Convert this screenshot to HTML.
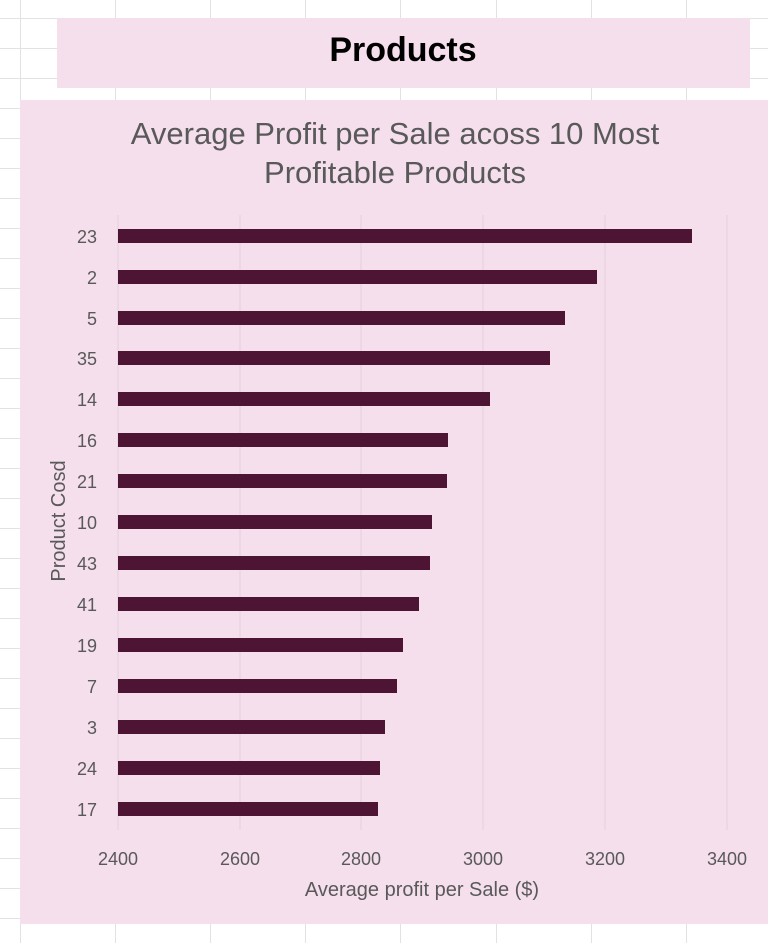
<!DOCTYPE html>
<html><head><meta charset="utf-8"><style>
body{margin:0;width:768px;height:943px;overflow:hidden;background:#fff;font-family:"Liberation Sans",sans-serif}
</style></head><body>
<svg width="768" height="943" xmlns="http://www.w3.org/2000/svg" font-family="Liberation Sans, sans-serif">
<g stroke="#e2e2e2" stroke-width="1">
<line x1="20.5" y1="0" x2="20.5" y2="943"/><line x1="115.5" y1="0" x2="115.5" y2="943"/><line x1="210.5" y1="0" x2="210.5" y2="943"/><line x1="305.5" y1="0" x2="305.5" y2="943"/><line x1="400.5" y1="0" x2="400.5" y2="943"/><line x1="496.5" y1="0" x2="496.5" y2="943"/><line x1="591.5" y1="0" x2="591.5" y2="943"/><line x1="686.5" y1="0" x2="686.5" y2="943"/>
<line x1="0" y1="18.5" x2="768" y2="18.5"/><line x1="0" y1="48.5" x2="768" y2="48.5"/><line x1="0" y1="78.5" x2="768" y2="78.5"/><line x1="0" y1="108.5" x2="768" y2="108.5"/><line x1="0" y1="138.5" x2="768" y2="138.5"/><line x1="0" y1="168.5" x2="768" y2="168.5"/><line x1="0" y1="198.5" x2="768" y2="198.5"/><line x1="0" y1="228.5" x2="768" y2="228.5"/><line x1="0" y1="258.5" x2="768" y2="258.5"/><line x1="0" y1="288.5" x2="768" y2="288.5"/><line x1="0" y1="318.5" x2="768" y2="318.5"/><line x1="0" y1="348.5" x2="768" y2="348.5"/><line x1="0" y1="378.5" x2="768" y2="378.5"/><line x1="0" y1="408.5" x2="768" y2="408.5"/><line x1="0" y1="438.5" x2="768" y2="438.5"/><line x1="0" y1="468.5" x2="768" y2="468.5"/><line x1="0" y1="498.5" x2="768" y2="498.5"/><line x1="0" y1="528.5" x2="768" y2="528.5"/><line x1="0" y1="558.5" x2="768" y2="558.5"/><line x1="0" y1="588.5" x2="768" y2="588.5"/><line x1="0" y1="618.5" x2="768" y2="618.5"/><line x1="0" y1="648.5" x2="768" y2="648.5"/><line x1="0" y1="678.5" x2="768" y2="678.5"/><line x1="0" y1="708.5" x2="768" y2="708.5"/><line x1="0" y1="738.5" x2="768" y2="738.5"/><line x1="0" y1="768.5" x2="768" y2="768.5"/><line x1="0" y1="798.5" x2="768" y2="798.5"/><line x1="0" y1="828.5" x2="768" y2="828.5"/><line x1="0" y1="858.5" x2="768" y2="858.5"/><line x1="0" y1="888.5" x2="768" y2="888.5"/><line x1="0" y1="918.5" x2="768" y2="918.5"/>
</g>
<rect x="57" y="18" width="693" height="70" fill="#f5dfec"/>
<text x="403" y="61" text-anchor="middle" font-size="34" font-weight="bold" fill="#000">Products</text>
<rect x="20" y="100" width="748" height="824" fill="#f5dfec"/>
<text x="395" y="144" text-anchor="middle" font-size="31" fill="#595959">Average Profit per Sale acoss 10 Most</text>
<text x="395" y="183" text-anchor="middle" font-size="31" fill="#595959">Profitable Products</text>
<g stroke="#e3d2dc" stroke-width="1">
<line x1="118" y1="215" x2="118" y2="830"/><line x1="240" y1="215" x2="240" y2="830"/><line x1="361" y1="215" x2="361" y2="830"/><line x1="483" y1="215" x2="483" y2="830"/><line x1="605" y1="215" x2="605" y2="830"/><line x1="727" y1="215" x2="727" y2="830"/>
</g>
<g fill="#4e1433">
<rect x="118" y="229" width="574" height="14"/>
<rect x="118" y="270" width="479" height="14"/>
<rect x="118" y="311" width="447" height="14"/>
<rect x="118" y="351" width="432" height="14"/>
<rect x="118" y="392" width="372" height="14"/>
<rect x="118" y="433" width="330" height="14"/>
<rect x="118" y="474" width="329" height="14"/>
<rect x="118" y="515" width="314" height="14"/>
<rect x="118" y="556" width="312" height="14"/>
<rect x="118" y="597" width="301" height="14"/>
<rect x="118" y="638" width="285" height="14"/>
<rect x="118" y="679" width="279" height="14"/>
<rect x="118" y="720" width="267" height="14"/>
<rect x="118" y="761" width="262" height="14"/>
<rect x="118" y="802" width="260" height="14"/>
</g>
<g font-size="18" fill="#595959" text-anchor="end">
<text x="97" y="243">23</text><text x="97" y="284">2</text><text x="97" y="325">5</text><text x="97" y="365">35</text><text x="97" y="406">14</text><text x="97" y="447">16</text><text x="97" y="488">21</text><text x="97" y="529">10</text><text x="97" y="570">43</text><text x="97" y="611">41</text><text x="97" y="652">19</text><text x="97" y="693">7</text><text x="97" y="734">3</text><text x="97" y="775">24</text><text x="97" y="816">17</text>
</g>
<g font-size="18" fill="#595959" text-anchor="middle">
<text x="118" y="865">2400</text><text x="240" y="865">2600</text><text x="361" y="865">2800</text><text x="483" y="865">3000</text><text x="605" y="865">3200</text><text x="727" y="865">3400</text>
<text x="422" y="896" font-size="20">Average profit per Sale ($)</text>
<text transform="translate(65,521) rotate(-90)" font-size="20">Product Cosd</text>
</g>
</svg>
</body></html>
